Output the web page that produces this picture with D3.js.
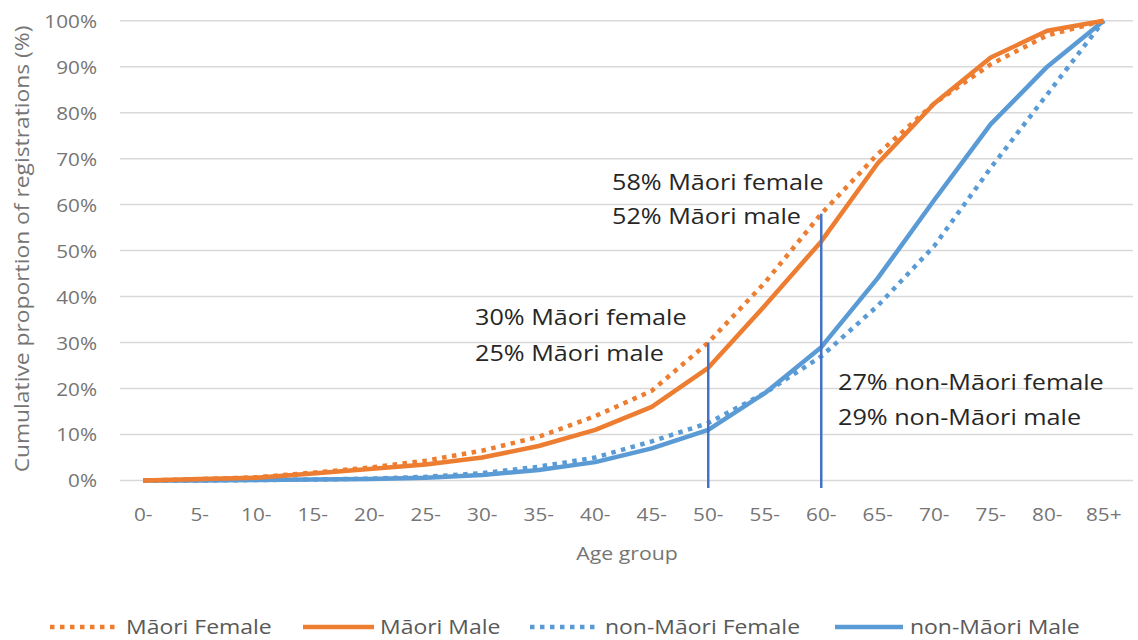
<!DOCTYPE html>
<html><head><meta charset="utf-8">
<script src="https://cdn.jsdelivr.net/npm/d3@7"></script>
<style>body{margin:0;background:#fff}svg{display:block}text{font-family:"Open Sans",sans-serif}</style>
</head><body><svg id="c" width="1138" height="640"></svg>
<script>
const categories = ["0-","5-","10-","15-","20-","25-","30-","35-","40-","45-","50-","55-","60-","65-","70-","75-","80-","85+"];
const maoriFemale    = [0,0.3,0.7,1.7,2.8,4.3,6.5,9.5,14,19.5,30,43,58,71,82,90.5,96.8,100];
const maoriMale      = [0,0.3,0.6,1.5,2.5,3.5,5,7.5,11,16,24.5,38,52,69,82,92,97.8,100];
const nonMaoriFemale = [0,0,0.1,0.2,0.4,0.8,1.6,3,5,8.5,12.5,19,27,38,51,68,84,100];
const nonMaoriMale   = [0,0,0.1,0.2,0.3,0.6,1.2,2.3,4,7,11,19,29,44,61,77.5,90,100];
const yTicks = [0,10,20,30,40,50,60,70,80,90,100];
const seriesNames = ["Māori Female","Māori Male","non-Māori Female","non-Māori Male"];
const markerCats = ["50-","60-"];
const markerTops = [30,58];
const notes = [
  ["30% Māori female","25% Māori male"],
  ["58% Māori female","52% Māori male"],
  ["27% non-Māori female","29% non-Māori male"]
];

const SX = 1.12;
const svg = d3.select("#c");
const x = d3.scaleBand().domain(categories).range([115,1132]);
const y = d3.scaleLinear().domain([0,100]).range([480.5,20.7]);
const cx = c => x(c) + x.bandwidth()/2;

// gridlines
svg.append("g").selectAll("line").data(yTicks).join("line")
  .attr("x1",120).attr("x2",1133).attr("y1",d=>y(d)).attr("y2",d=>y(d))
  .attr("stroke","#d9d9d9").attr("stroke-width",1.5);

// y axis labels
const ya = svg.append("g").attr("transform","translate(97,0)")
  .call(d3.axisLeft(y).tickValues(yTicks).tickFormat(d=>d+"%").tickSize(0).tickPadding(0));
ya.select(".domain").remove();
ya.selectAll("text").attr("font-size",18.5).attr("fill","#757575").attr("font-family","Open Sans")
  .attr("x",0).attr("dy","0.35em").attr("transform",`scale(${SX},1)`);

// x axis labels
const xa = svg.append("g").attr("transform","translate(0,505)")
  .call(d3.axisBottom(x).tickSize(0).tickPadding(0));
xa.select(".domain").remove();
xa.selectAll("text").attr("font-size",18.5).attr("fill","#757575").attr("font-family","Open Sans")
  .attr("y",0).attr("dy","0.85em").attr("transform",`scale(${SX},1)`);

function stext(g, tx, ty, str, size, fill, anchor){
  return g.append("text").attr("transform",`translate(${tx},${ty}) scale(${SX},1)`)
    .attr("font-size",size).attr("fill",fill).attr("text-anchor",anchor||"start").text(str);
}

// axis titles
stext(svg,627,560,"Age group",19,"#757575","middle");
svg.append("text").attr("transform",`translate(29,249) rotate(-90) scale(1.17,1)`)
  .attr("font-size",19.5).attr("fill","#757575").attr("text-anchor","middle")
  .text("Cumulative proportion of registrations (%)");

// series
const series = [
  {name:seriesNames[0], vals:maoriFemale, color:"#ED7D31", dash:"4.5,5.5"},
  {name:seriesNames[1], vals:maoriMale, color:"#ED7D31", dash:null},
  {name:seriesNames[2], vals:nonMaoriFemale, color:"#5B9BD5", dash:"4.5,5.5"},
  {name:seriesNames[3], vals:nonMaoriMale, color:"#5B9BD5", dash:null}
];
const line = d3.line().x((d,i)=>cx(categories[i])).y(d=>y(d));
const drawOrder = [2,3,0,1];
drawOrder.forEach(k=>{
  const s = series[k];
  svg.append("path").attr("d",line(s.vals)).attr("fill","none")
    .attr("stroke",s.color).attr("stroke-width",s.dash?4.5:4.5)
    .attr("stroke-dasharray",s.dash).attr("stroke-linejoin","round");
});

// marker lines
markerCats.forEach((c,i)=>{
  svg.append("line").attr("x1",cx(c)).attr("x2",cx(c)).attr("y1",y(markerTops[i])).attr("y2",488)
    .attr("stroke","#4472C4").attr("stroke-width",2.5);
});

// annotations
const notePos = [[475,325,361],[612,190,224],[838,390,425]];
notes.forEach((n,i)=>{
  stext(svg,notePos[i][0],notePos[i][1],n[0],22.5,"#262626");
  stext(svg,notePos[i][0],notePos[i][2],n[1],22.5,"#262626");
});

// legend
const lg = svg.append("g");
const legX = [[50,117,126],[303,374,380],[530,597,605],[835,903,910]];
series.forEach((s,i)=>{
  const [a,b,t] = legX[i];
  lg.append("line").attr("x1",a).attr("x2",b).attr("y1",627).attr("y2",627)
    .attr("stroke",s.color).attr("stroke-width",4.5).attr("stroke-dasharray",s.dash);
  stext(lg,t,634,s.name,20.5,"#595959");
});
</script></body></html>
